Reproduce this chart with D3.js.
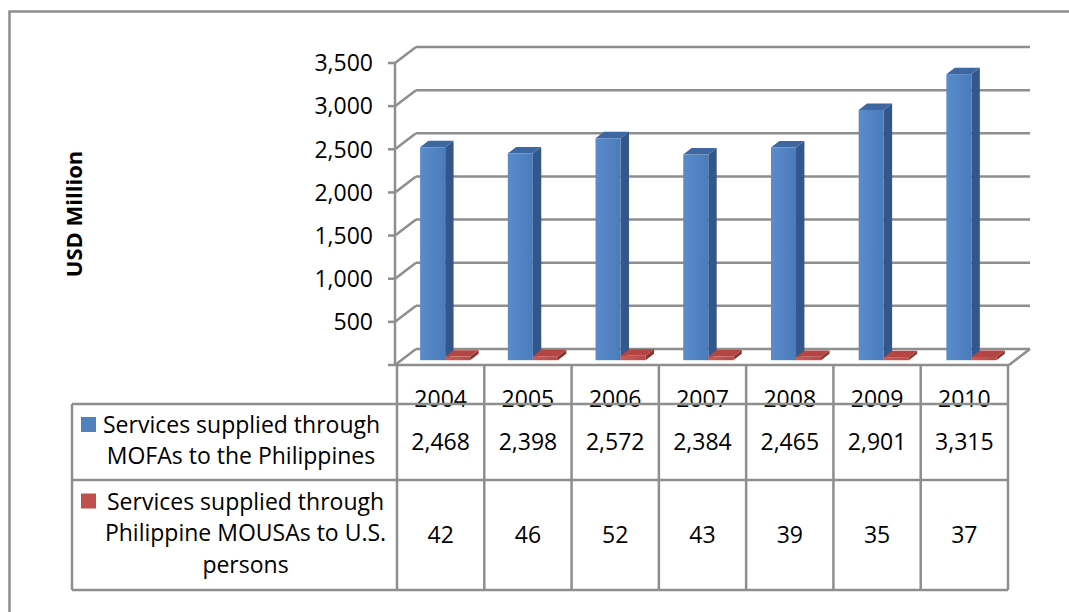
<!DOCTYPE html>
<html>
<head>
<meta charset="utf-8">
<script src="https://cdn.jsdelivr.net/npm/d3@7"></script>
<style>
  html, body { margin: 0; padding: 0; background: #fff; }
  svg { display: block; }
  text { font-family: "Open Sans", "Noto Sans", sans-serif; fill: #000; }
</style>
</head>
<body>
<svg id="chart" width="1069" height="612"></svg>
<script>
// ---------- data ----------
const years = ["2004", "2005", "2006", "2007", "2008", "2009", "2010"];
const seriesNames = [
  "Services supplied through MOFAs to the Philippines",
  "Services supplied through Philippine MOUSAs to U.S. persons"
];
const mofaValues = [2468, 2398, 2572, 2384, 2465, 2901, 3315];
const mousaValues = [42, 46, 52, 43, 39, 35, 37];
const yTicks = [0, 500, 1000, 1500, 2000, 2500, 3000, 3500];
const yAxisTitle = "USD Million";
const legendLines = [
  ["Services supplied through", "MOFAs to the Philippines"],
  ["Services supplied through", "Philippine MOUSAs to U.S.", "persons"]
];

// ---------- layout ----------
const svg = d3.select("#chart");
const W = 1069, H = 612;
const FS = 23;
const gridColor = "#8e8e8e";
const frontLeft = 395, frontRight = 1009;
const y0 = 365, yTop = 63;
const depthX = 21, depthY = -16;

const x = d3.scaleBand().domain(years).range([frontLeft, frontRight]).padding(0);
const xs = d3.scaleBand().domain([0, 1]).range([0, x.bandwidth()]).paddingInner(0).paddingOuter(0.75);
const y = d3.scaleLinear().domain([0, 3500]).range([y0, yTop]);
const fmt = d3.format(",");

// chart frame
svg.append("rect").attr("x", 9.5).attr("y", 11.5).attr("width", 1100).attr("height", 700)
  .attr("fill", "#fff").attr("stroke", "#8c8c8c").attr("stroke-width", 2.5);

// ---------- walls / gridlines ----------
const g = svg.append("g");
yTicks.forEach(v => {
  const yy = y(v);
  // back wall gridline
  g.append("line").attr("x1", frontLeft + depthX).attr("x2", frontRight + depthX)
    .attr("y1", yy + depthY).attr("y2", yy + depthY)
    .attr("stroke", gridColor).attr("stroke-width", 2.5);
  // side wall diagonal
  g.append("line").attr("x1", frontLeft).attr("y1", yy)
    .attr("x2", frontLeft + depthX).attr("y2", yy + depthY)
    .attr("stroke", gridColor).attr("stroke-width", 2.5);
  // tick
  g.append("line").attr("x1", frontLeft - 7).attr("x2", frontLeft)
    .attr("y1", yy).attr("y2", yy)
    .attr("stroke", gridColor).attr("stroke-width", 2.5);
  if (v > 0) {
    g.append("text").attr("x", 373).attr("y", yy).attr("dy", "0.36em")
      .attr("text-anchor", "end").attr("font-size", FS).text(fmt(v));
  }
});
// floor right edge & front edge
g.append("line").attr("x1", frontRight).attr("y1", y0)
  .attr("x2", frontRight + depthX).attr("y2", y0 + depthY)
  .attr("stroke", gridColor).attr("stroke-width", 2.5);
// front vertical axis
g.append("line").attr("x1", frontLeft).attr("x2", frontLeft)
  .attr("y1", yTop).attr("y2", y0)
  .attr("stroke", gridColor).attr("stroke-width", 2.5);

// y axis title
svg.append("text").attr("transform", `translate(82,214) rotate(-90)`)
  .attr("text-anchor", "middle").attr("font-size", 22).attr("font-weight", "bold")
  .text(yAxisTitle);

// ---------- 3D bars ----------
const defs = svg.append("defs");
const gradB = defs.append("linearGradient").attr("id", "gb").attr("x1", 0).attr("x2", 1).attr("y1", 0).attr("y2", 0);
gradB.append("stop").attr("offset", 0).attr("stop-color", "#5a8ccc");
gradB.append("stop").attr("offset", 1).attr("stop-color", "#4a7bbb");
const gradR = defs.append("linearGradient").attr("id", "gr").attr("x1", 0).attr("x2", 1).attr("y1", 0).attr("y2", 0);
gradR.append("stop").attr("offset", 0).attr("stop-color", "#cc5a57");
gradR.append("stop").attr("offset", 1).attr("stop-color", "#b84a47");

const styles = [
  { front: "url(#gb)", side: "#33578a", top: "#3e66a0" },
  { front: "url(#gr)", side: "#8c3431", top: "#b34643" }
];
const t0 = 0.3, tD = 0.4;
const ox = depthX * t0, oy = depthY * t0;
const bx = depthX * tD, by = depthY * tD;

const barsG = svg.append("g");
const seriesVals = [mofaValues, mousaValues];
years.forEach((yr, i) => {
  [0, 1].forEach(s => {
    const v = seriesVals[s][i];
    const xa = x(yr) + xs(s) + ox, xb = xa + xs.bandwidth();
    const ya = y(v) + oy, yb = y(0) + oy;
    const st = styles[s];
    const bar = barsG.append("g");
    bar.append("polygon")
      .attr("points", [[xb, ya], [xb + bx, ya + by], [xb + bx, yb + by], [xb, yb]].join(" "))
      .attr("fill", st.side);
    bar.append("polygon")
      .attr("points", [[xa, ya], [xa + bx, ya + by], [xb + bx, ya + by], [xb, ya]].join(" "))
      .attr("fill", st.top);
    bar.append("rect").attr("x", xa).attr("y", ya)
      .attr("width", xb - xa).attr("height", Math.max(0, yb - ya))
      .attr("fill", st.front);
  });
});

// ---------- data table ----------
const xt = d3.scaleBand().domain(years).range([397, 1008]).padding(0);
const tg = svg.append("g");
const hdrTop = 365, hdrBot = 404, row1Bot = 480, row2Bot = 590, tblLeft = 72;

// header text
years.forEach(yr => {
  tg.append("text").attr("x", xt(yr) + xt.bandwidth() / 2).attr("y", 406.5)
    .attr("text-anchor", "middle").attr("font-size", FS).text(yr);
});
// values
years.forEach((yr, i) => {
  tg.append("text").attr("x", xt(yr) + xt.bandwidth() / 2).attr("y", 450)
    .attr("text-anchor", "middle").attr("font-size", FS).text(fmt(mofaValues[i]));
  tg.append("text").attr("x", xt(yr) + xt.bandwidth() / 2).attr("y", 543)
    .attr("text-anchor", "middle").attr("font-size", FS).text(fmt(mousaValues[i]));
});

// legend-labels
const swatchCol = ["#4f81bd", "#c0504d"];
const rowCfg = [
  { base: 433, step: 31.3, cx: 241, firstX: 103 },
  { base: 509.5, step: 31.8, cx: 245.5, firstX: 107 }
];
legendLines.forEach((lines, r) => {
  const c = rowCfg[r];
  lines.forEach((ln, k) => {
    const yy = c.base + k * c.step;
    if (k === 0) {
      tg.append("rect").attr("x", 81).attr("y", yy - 16).attr("width", 15).attr("height", 15)
        .attr("fill", swatchCol[r]);
      tg.append("text").attr("x", c.firstX).attr("y", yy).attr("font-size", FS).text(ln);
    } else {
      tg.append("text").attr("x", c.cx).attr("y", yy).attr("text-anchor", "middle")
        .attr("font-size", FS).text(ln);
    }
  });
});

// grid lines of the table (drawn on top)
const lineStyle = sel => sel.attr("stroke", gridColor).attr("stroke-width", 2.5).attr("fill", "none");
// top (floor front edge)
lineStyle(tg.append("line").attr("x1", frontLeft).attr("x2", frontRight).attr("y1", hdrTop).attr("y2", hdrTop));
[hdrBot, row1Bot, row2Bot].forEach(yy => {
  lineStyle(tg.append("line").attr("x1", tblLeft).attr("x2", 1008).attr("y1", yy).attr("y2", yy));
});
lineStyle(tg.append("line").attr("x1", tblLeft).attr("x2", tblLeft).attr("y1", hdrBot).attr("y2", row2Bot));
years.concat(["end"]).forEach((yr, i) => {
  const xx = yr === "end" ? 1008 : xt(yr);
  lineStyle(tg.append("line").attr("x1", xx).attr("x2", xx).attr("y1", hdrTop).attr("y2", row2Bot));
});
</script>
</body>
</html>
